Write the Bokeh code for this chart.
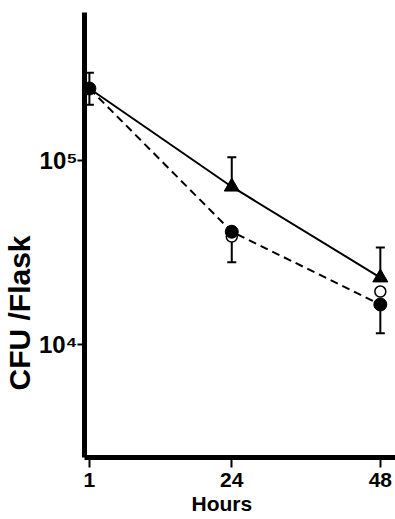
from bokeh.plotting import figure
from bokeh.models import Range1d, FixedTicker, Whisker, TeeHead, ColumnDataSource, Title
from bokeh.embed import file_html
from bokeh.resources import INLINE

# ---- data ----
hours = [1, 24, 48]
triangle_cfu = [2.46e5, 7.2e4, 2.31e4]
filled_cfu = [2.46e5, 4.1e4, 1.65e4]
open_cfu = [2.46e5, 3.86e4, 1.94e4]

start_upper = [3.0e5]
start_lower = [2.01e5]
triangle_upper = [1.04e5, 3.37e4]
filled_lower = [2.8e4, 1.15e4]

x_ticks = [1, 24, 48]
y_ticks = [1e4, 1e5]
y_tick_labels = {10000: "10\u2074", 100000: "10\u2075"}

FONT = "Liberation Sans"

p = figure(width=395, height=519, y_axis_type="log",
           x_range=Range1d(0.21, 50.45), y_range=Range1d(2432, 636800),
           output_backend="svg", toolbar_location=None,
           min_border_left=84, min_border_right=0, min_border_top=12,
           min_border_bottom=62)
p.outline_line_color = None
p.xgrid.visible = False
p.ygrid.visible = False
p.background_fill_color = "white"
p.border_fill_color = "white"

for ax in (p.xaxis[0], p.yaxis[0]):
    ax.axis_line_width = 5
    ax.axis_line_color = "black"
    ax.major_tick_line_width = 2
    ax.major_tick_line_color = "black"
    ax.major_tick_in = 0
    ax.minor_tick_line_color = None
    ax.major_label_text_font = FONT
    ax.major_label_text_font_style = "bold"
    ax.major_label_text_color = "black"

p.xaxis.ticker = FixedTicker(ticks=x_ticks)
p.xaxis.major_tick_out = 10
p.xaxis.major_label_text_font_size = "21px"
p.xaxis.major_label_standoff = 5

p.yaxis.ticker = FixedTicker(ticks=y_ticks, minor_ticks=[])
p.yaxis.major_tick_out = 7
p.yaxis.major_label_text_font_size = "24px"
p.yaxis.major_label_standoff = 0
p.yaxis.major_label_overrides = y_tick_labels

# lines
p.line(hours, triangle_cfu, line_color="black", line_width=2)
p.line(hours, filled_cfu, line_color="black", line_width=2, line_dash="8 5")

# open circles (behind)
p.scatter(hours[1:], open_cfu[1:], marker="circle", size=11,
          fill_color="white", line_color="black", line_width=1.5)

# error bars
head = dict(size=9, line_width=2, line_color="black")
src0 = ColumnDataSource(dict(x=hours[:1], up=start_upper, lo=start_lower))
p.add_layout(Whisker(source=src0, base="x", upper="up", lower="lo",
                     line_width=2, line_color="black",
                     upper_head=TeeHead(**head), lower_head=TeeHead(**head)))
src1 = ColumnDataSource(dict(x=hours[1:], up=triangle_upper, lo=triangle_cfu[1:]))
p.add_layout(Whisker(source=src1, base="x", upper="up", lower="lo",
                     line_width=2, line_color="black",
                     upper_head=TeeHead(**head), lower_head=None))
src2 = ColumnDataSource(dict(x=hours[1:], up=filled_cfu[1:], lo=filled_lower))
p.add_layout(Whisker(source=src2, base="x", upper="up", lower="lo",
                     line_width=2, line_color="black",
                     upper_head=None, lower_head=TeeHead(**head)))

# markers
p.scatter(hours[1:], triangle_cfu[1:], marker="triangle", size=15,
          fill_color="black", line_color="black")
p.scatter(hours, filled_cfu, marker="circle", size=13,
          fill_color="black", line_color="black")

# axis titles as side titles (allow offsets)
p.add_layout(Title(text="CFU /Flask", align="left", offset=67, standoff=0,
                   text_font=FONT, text_font_style="bold",
                   text_font_size="30px", text_color="black"), "left")
p.add_layout(Title(text="Hours", align="left", offset=107, standoff=0,
                   text_font=FONT, text_font_style="bold",
                   text_font_size="21px", text_color="black"), "below")

open("out.html", "w").write(file_html(p, INLINE))
